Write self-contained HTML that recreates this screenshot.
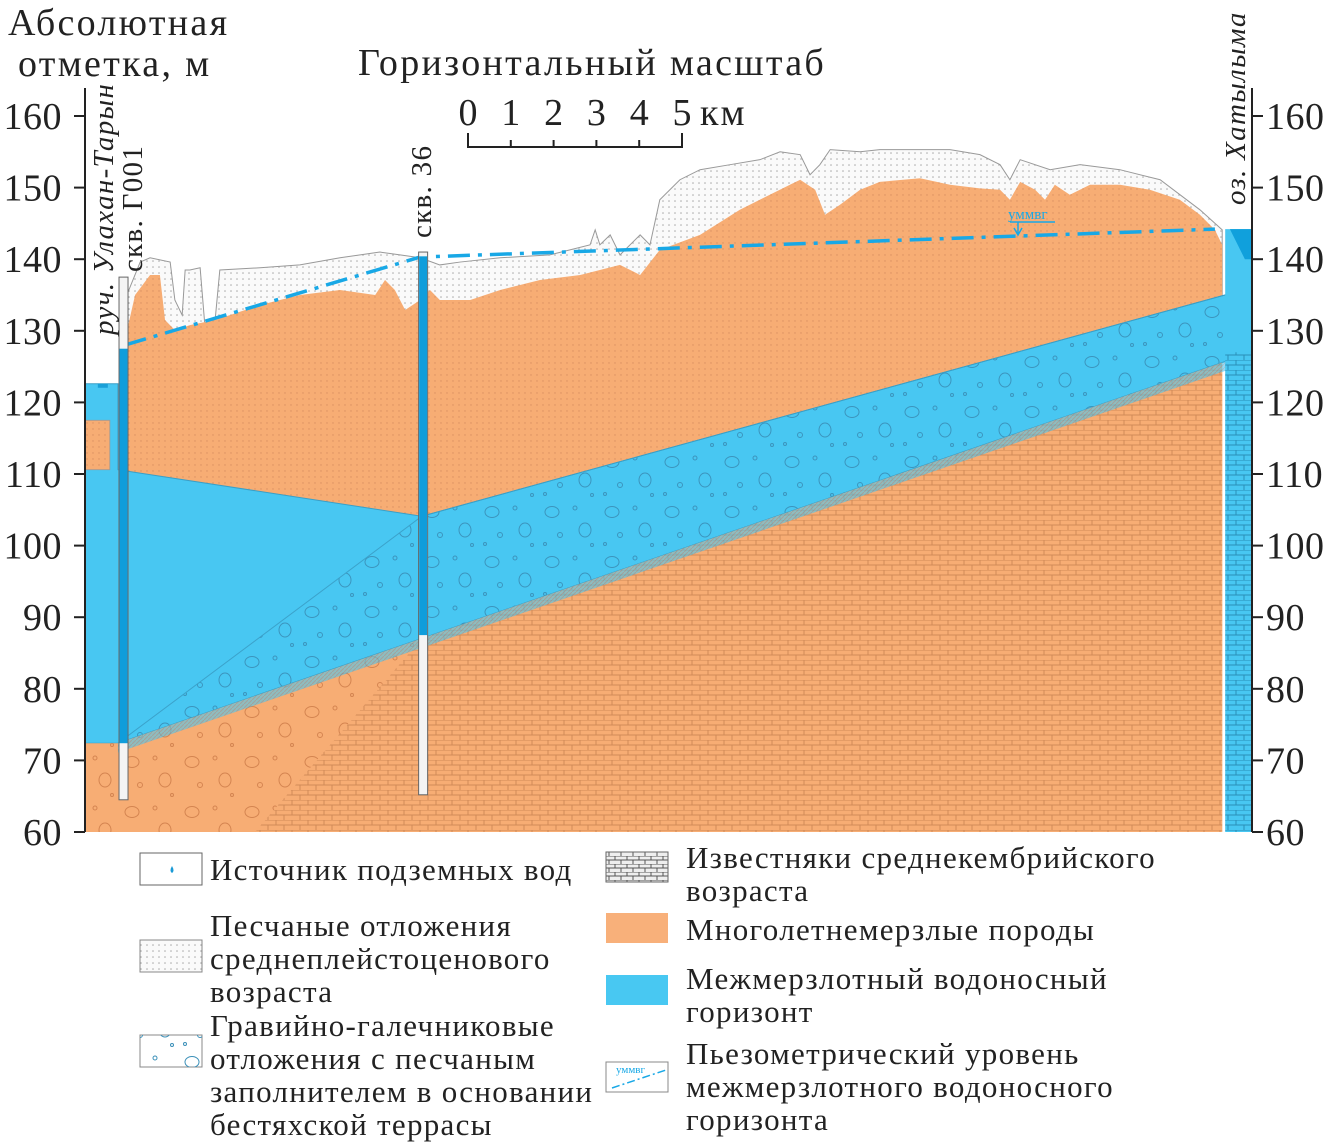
<!DOCTYPE html>
<html><head><meta charset="utf-8"><style>
body{margin:0;background:#fff}
svg{display:block}
text{font-family:"Liberation Serif",serif;fill:#222}
</style></head><body>
<svg id="c" width="1333" height="1146" viewBox="0 0 1333 1146" xmlns="http://www.w3.org/2000/svg">
<defs>
<pattern id="dots" width="6" height="6" patternUnits="userSpaceOnUse"><rect width="6" height="6" fill="#fafafa"/><circle cx="3" cy="3" r="0.8" fill="#aaa"/></pattern>
<pattern id="odots" width="6" height="6" patternUnits="userSpaceOnUse"><rect width="6" height="6" fill="#f7ad74"/><circle cx="3" cy="3" r="0.7" fill="#d99060"/></pattern>
<pattern id="gravel" width="60" height="50" patternUnits="userSpaceOnUse"><ellipse cx="12" cy="12" rx="7" ry="5.5" fill="none" stroke="#3a8fb8" stroke-width="1"/><circle cx="35" cy="8" r="2" fill="none" stroke="#3a8fb8"/><ellipse cx="45" cy="30" rx="6" ry="7" fill="none" stroke="#3a8fb8"/><circle cx="20" cy="35" r="2.5" fill="none" stroke="#3a8fb8"/><circle cx="52" cy="45" r="1.5" fill="none" stroke="#3a8fb8"/><circle cx="5" cy="44" r="1.5" fill="none" stroke="#3a8fb8"/></pattern>
<pattern id="gravelO" width="60" height="50" patternUnits="userSpaceOnUse"><ellipse cx="12" cy="12" rx="7" ry="5.5" fill="none" stroke="#d48450" stroke-width="1"/><circle cx="35" cy="8" r="2" fill="none" stroke="#d48450"/><ellipse cx="45" cy="30" rx="6" ry="7" fill="none" stroke="#d48450"/><circle cx="20" cy="35" r="2.5" fill="none" stroke="#d48450"/><circle cx="52" cy="45" r="1.5" fill="none" stroke="#d48450"/></pattern>
<pattern id="brick" width="16" height="10" patternUnits="userSpaceOnUse"><path d="M0 0H16M0 5H16M4 0V5M12 5V10" stroke="#d08a58" stroke-width="1" fill="none"/></pattern>
<pattern id="brickB" width="16" height="10" patternUnits="userSpaceOnUse"><path d="M0 0H16M0 5H16M4 0V5M12 5V10" stroke="#2a8fb8" stroke-width="1" fill="none"/></pattern>
<pattern id="brickL" width="12" height="8" patternUnits="userSpaceOnUse"><rect width="12" height="8" fill="#eee"/><path d="M0 0H12M0 4H12M3 0V4M9 4V8" stroke="#555" stroke-width="1" fill="none"/></pattern>
<pattern id="hatch" width="4" height="4" patternUnits="userSpaceOnUse"><rect width="4" height="4" fill="#48c7f2"/><path d="M0 4L4 0" stroke="#6a9ab8" stroke-width="1"/></pattern>
</defs>
<g id="plot"></g>
<g id="axes"></g>
</svg>
<script>
// distance in km from left axis, elevation in m
const sandKm=[0.93,1.29,1.52,1.99,2.10,2.27,2.34,2.45,2.69,2.80,3.04,3.15,4.09,5.02,5.96,6.89,7.36,7.83,8.29,8.76,9.70,10.86,11.80,11.92,12.03,12.27,12.5,12.97,13.2,13.43,13.9,14.37,15.07,15.77,16.24,16.71,16.94,17.17,17.41,18.11,18.57,20.21,20.91,21.38,21.61,21.85,22.55,23.25,24.18,25.12,26.05,26.57];
const sandEl=[134.3,139.6,140.2,139.6,134.3,132.2,138.5,138.5,138.8,130.8,131.5,138.5,138.8,139.2,140.2,141.0,140.6,140.2,139.2,139.6,140.2,140.6,142.0,144.1,142.0,143.4,140.6,143.4,142.0,148.3,151.1,152.5,153.2,153.9,155.0,154.6,151.8,153.2,155.3,155.0,155.3,155.3,154.6,153.2,151.1,153.9,152.5,153.2,152.5,151.1,146.9,144.1];
const frozenKm=[0.93,1.17,1.52,1.75,1.87,2.10,2.45,3.04,4.09,5.02,5.96,6.78,7.01,7.24,7.48,7.83,8.06,8.29,9.0,9.70,10.63,11.57,12.5,12.97,13.43,14.37,15.3,16.0,16.47,16.71,17.06,17.29,17.64,18.11,18.57,19.51,20.21,20.91,21.38,21.61,21.85,22.2,22.43,22.66,23.01,23.48,24.18,24.88,25.58,26.05,26.4,26.57];
const frozenEl=[128.7,135.0,137.8,137.8,131.5,130.1,130.8,131.5,133.6,135.0,135.7,135.0,137.1,135.7,132.9,134.3,135.7,134.3,134.3,135.7,137.1,137.8,139.2,137.8,141.3,143.4,146.9,149.0,150.4,151.1,149.7,146.2,147.6,149.7,150.8,151.3,150.4,149.9,149.7,148.3,150.8,149.7,148.3,150.4,149.0,150.4,150.4,149.7,148.3,146.2,144.1,142.0];
const aquiferTopKm=[0.77,7.87,26.57], aquiferTopEl=[110.6,104.1,134.9];
const aquiferBotKm=[0.77,27.27], aquiferBotEl=[72.4,127.0];
const piezoKm=[0.93,7.83,26.4], piezoEl=[128.0,140.3,144.2];
const wellKm=[0.9,7.9], wellTop=[137.5,141.0], wellBot=[64.5,65.2], wellWater=[127.5,140.4], wellWaterBot=[72.4,87.5];
const ticks=[60,70,80,90,100,110,120,130,140,150,160];
const scaleTicks=[0,1,2,3,4,5];

const X=k=>85+k*42.8, Y=v=>832-(v-60)*7.16;
const NS='http://www.w3.org/2000/svg';
const plot=document.getElementById('plot'), axes=document.getElementById('axes');
function el(tag,attrs,parent){const e=document.createElementNS(NS,tag);for(const k in attrs)e.setAttribute(k,attrs[k]);(parent||plot).appendChild(e);return e;}
const pts=(ks,vs)=>ks.map((k,i)=>X(k)+','+Y(vs[i]));
const bot=aquiferBotEl[0], slope=(aquiferBotEl[1]-aquiferBotEl[0])/(aquiferBotKm[1]-aquiferBotKm[0]);
const botAt=k=>bot+(k-aquiferBotKm[0])*slope;

let p=el('polygon',{points:pts(sandKm,sandEl).concat([X(26.57)+','+Y(134.9),X(0.93)+','+Y(128.7)]).join(' '),fill:'url(#dots)',stroke:'#999','stroke-width':1});

p=el('polygon',{points:pts(frozenKm,frozenEl).concat([X(26.57)+','+Y(60),X(0.77)+','+Y(60)]).join(' '),fill:'url(#odots)'});

const aq=[X(0)+','+Y(122.6),X(0.77)+','+Y(122.6)].concat(pts(aquiferTopKm,aquiferTopEl),[X(27.27)+','+Y(136),X(27.27)+','+Y(aquiferBotEl[1]),X(0.77)+','+Y(bot),X(0)+','+Y(bot)]);
p=el('polygon',{points:aq.join(' '),fill:'#48c7f2',stroke:'#3a9fc7','stroke-width':1});

p=el('polygon',{points:[X(7.87)+','+Y(104.1),X(26.57)+','+Y(134.9),X(27.27)+','+Y(136),X(27.27)+','+Y(aquiferBotEl[1]),X(0.77)+','+Y(bot)].join(' '),fill:'url(#gravel)',stroke:'#3a9fc7','stroke-width':1,opacity:0.9});

p=el('rect',{x:X(0),y:Y(117.5),width:X(0.58)-X(0),height:Y(110.6)-Y(117.5),fill:'url(#odots)',stroke:'#999','stroke-width':0.8});

p=el('polygon',{points:[X(0)+','+Y(bot),X(0.77)+','+Y(bot),X(7.87)+','+Y(botAt(7.87)),X(3.97)+','+Y(60),X(0)+','+Y(60)].join(' '),fill:'#f7ad74'});

el('polygon',{points:[X(0)+','+Y(bot),X(0.77)+','+Y(bot),X(7.87)+','+Y(botAt(7.87)),X(3.97)+','+Y(60),X(0)+','+Y(60)].join(' '),fill:'url(#gravelO)'});
const lim=[X(3.97)+','+Y(60),X(7.87)+','+Y(botAt(7.87)),X(26.57)+','+Y(botAt(26.57)),X(26.57)+','+Y(60)].join(' ');
p=el('polygon',{points:lim,fill:'#f7ad74'});

el('polygon',{points:lim,fill:'url(#brick)'});
p=el('polygon',{points:[X(0.77)+','+Y(bot),X(27.27)+','+Y(aquiferBotEl[1]),X(27.27)+','+Y(aquiferBotEl[1]-1.3),X(0.77)+','+Y(bot-1.3)].join(' '),fill:'url(#hatch)',opacity:0.6});

p=el('rect',{x:X(26.57)+3,y:Y(144.2),width:X(27.27)-X(26.57)-3,height:Y(60)-Y(144.2),fill:'#48c7f2'});

el('rect',{x:X(26.57)+3,y:Y(aquiferBotEl[1]),width:X(27.27)-X(26.57)-3,height:Y(60)-Y(aquiferBotEl[1]),fill:'url(#brickB)'});
p=el('polygon',{points:[X(26.75)+','+Y(144.2),X(27.27)+','+Y(144.2),X(27.27)+','+Y(140),X(27.1)+','+Y(140)].join(' '),fill:'#10a0dc'});

p=el('rect',{x:X(0.3),y:Y(122.6),width:10,height:4,fill:'#1aa0d8'});

p=el('polyline',{points:pts(piezoKm,piezoEl).join(' '),fill:'none',stroke:'#18a8e6','stroke-width':3.5,'stroke-dasharray':'22 8 4 8'});

let t=el('text',{x:1008,y:219,'font-size':15,style:'fill:#18a8e6'});t.textContent='уммвг';

el('path',{d:'M1010 222H1055M1018 222V234M1014 228L1018 235L1022 228',stroke:'#18a8e6','stroke-width':1.5,fill:'none'});
wellKm.forEach((k,i)=>{
 const w=el('rect',{x:X(k)-4.5,y:Y(wellTop[i]),width:9,height:Y(wellBot[i])-Y(wellTop[i]),fill:'#f4f4f4',stroke:'#666','stroke-width':1});
 
 
 const f=el('rect',{x:X(k)-4,y:Y(wellWater[i]),width:8,height:Y(wellWaterBot[i])-Y(wellWater[i]),fill:'#0f9ddb'});
 
 
});
el('line',{x1:85,y1:Y(60),x2:85,y2:88,stroke:'#222','stroke-width':2},axes);
el('line',{x1:1252,y1:Y(60),x2:1252,y2:88,stroke:'#222','stroke-width':2},axes);
ticks.forEach(v=>{
 el('line',{x1:74,y1:Y(v),x2:85,y2:Y(v),stroke:'#222','stroke-width':2},axes);
 el('line',{x1:1252,y1:Y(v),x2:1263,y2:Y(v),stroke:'#222','stroke-width':2},axes);
 const a=el('text',{x:62,y:Y(v)+13,'text-anchor':'end','font-size':38,'letter-spacing':0.5},axes);a.textContent=v;
 
 
 const b=el('text',{x:1266,y:Y(v)+13,'font-size':38,'letter-spacing':0.5},axes);b.textContent=v;
 
 
});
el('path',{d:'M468 133V147H682V133',stroke:'#222','stroke-width':2,fill:'none'},axes);
scaleTicks.forEach(s=>{
 el('line',{x1:468+s*42.8,y1:140,x2:468+s*42.8,y2:147,stroke:'#222','stroke-width':2},axes);
 const a=el('text',{x:468+s*42.8,y:125,'text-anchor':'middle','font-size':38},axes);a.textContent=s;
 
 
});
</script>
<div style="position:absolute;left:0;top:0;width:1333px;height:1146px;pointer-events:none">
<svg width="1333" height="1146" xmlns="http://www.w3.org/2000/svg">
<text x="8" y="35" font-size="38" letter-spacing="2.3">Абсолютная</text>
<text x="18" y="76" font-size="38" letter-spacing="2.3">отметка, м</text>
<text x="592" y="75" font-size="38" letter-spacing="2.3" text-anchor="middle">Горизонтальный масштаб</text>
<text x="700" y="125" font-size="38" letter-spacing="2">км</text>
<text transform="translate(113,335) rotate(-90)" font-size="29" letter-spacing="1.3" font-style="italic">руч. Улахан-Тарын</text>
<text transform="translate(142,272) rotate(-90)" font-size="29" letter-spacing="1.3">скв. Г001</text>
<text transform="translate(431,238) rotate(-90)" font-size="29" letter-spacing="1.3">скв. 36</text>
<text transform="translate(1245,205) rotate(-90)" font-size="29" letter-spacing="1.3" font-style="italic">оз. Хатылыма</text>
<g font-size="31" letter-spacing="1.3">
<rect x="140" y="853" width="62" height="32" fill="#fff" stroke="#666"/>
<path d="M172 866 q-3 5 0 7 q3 -2 0 -7z" fill="#1a9ad6"/>
<text x="210" y="880">Источник подземных вод</text>
<rect x="140" y="940" width="62" height="32" fill="url(#dots)" stroke="#888"/>
<text x="210" y="936">Песчаные отложения</text>
<text x="210" y="969">среднеплейстоценового</text>
<text x="210" y="1002">возраста</text>
<rect x="140" y="1035" width="62" height="32" fill="#fff" stroke="#888"/>
<rect x="140" y="1035" width="62" height="32" fill="url(#gravel)"/>
<text x="210" y="1036">Гравийно-галечниковые</text>
<text x="210" y="1069">отложения с песчаным</text>
<text x="210" y="1102">заполнителем в основании</text>
<text x="210" y="1135">бестяхской террасы</text>
<rect x="606" y="852" width="62" height="30" fill="url(#brickL)" stroke="#666"/>
<text x="686" y="868">Известняки среднекембрийского</text>
<text x="686" y="901">возраста</text>
<rect x="606" y="913" width="62" height="30" fill="#f8b07a"/>
<text x="686" y="940">Многолетнемерзлые породы</text>
<rect x="606" y="975" width="62" height="30" fill="#48c8f2"/>
<text x="686" y="989">Межмерзлотный водоносный</text>
<text x="686" y="1022">горизонт</text>
<rect x="606" y="1062" width="62" height="30" fill="#fff" stroke="#888"/>
<text x="616" y="1073" font-size="11" letter-spacing="0" style="fill:#18a8e6">уммвг</text>
<path d="M612 1088L666 1070" stroke="#18a8e6" stroke-dasharray="8 3 2 3" stroke-width="1.5"/>
<text x="686" y="1064">Пьезометрический уровень</text>
<text x="686" y="1097">межмерзлотного водоносного</text>
<text x="686" y="1130">горизонта</text>
</g>
</svg></div>
</body></html>
